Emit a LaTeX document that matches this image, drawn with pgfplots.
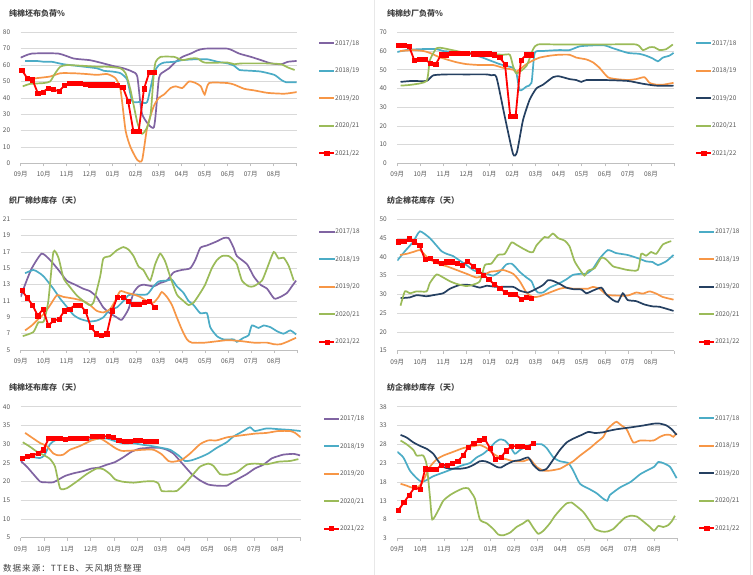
\documentclass[border=0pt]{standalone}
\usepackage{fontspec}
\setmainfont{Noto Sans CJK SC}
\usepackage{pgfplots}
\pgfplotsset{compat=1.18}
\definecolor{cpur}{HTML}{8064A2}
\definecolor{cteal}{HTML}{4BACC6}
\definecolor{corg}{HTML}{F79646}
\definecolor{cgrn}{HTML}{9BBB59}
\definecolor{cnav}{HTML}{254061}
\definecolor{cred}{HTML}{FF0000}
\definecolor{gridgray}{HTML}{D9D9D9}
\definecolor{axgray}{HTML}{BFBFBF}
\definecolor{lblgray}{HTML}{595959}
\definecolor{ttlgray}{HTML}{404040}
\pgfplotsset{
  panel/.style={
    scale only axis, width=276pt, height=131pt,
    xmin=0, xmax=12,
    axis x line*=bottom, axis y line*=left,
    y axis line style={draw=none},
    x axis line style={draw=axgray, line width=0.6pt, -},
    xtick={0,...,12},
    xticklabels={09月,10月,11月,12月,01月,02月,03月,04月,05月,06月,07月,08月,{}},
    ymajorgrids, grid style={draw=gridgray, line width=0.6pt},
    tick align=outside, major tick length=3pt,
    ytick style={draw=none},
    xtick style={draw=axgray, line width=0.6pt},
    tick label style={font=\fontsize{6.5}{7}\selectfont, text=lblgray},
    yticklabel style={xshift=-4pt},
    xticklabel style={yshift=-2pt},
    /pgf/number format/assume math mode=true,
    legend cell align=left,
    legend style={draw=none, fill=none, anchor=north west, inner sep=0pt,
      row sep=21.5pt, font=\fontsize{6.5}{7}\selectfont, text=lblgray,
      nodes={inner sep=0pt, text height=5pt, text depth=1pt},
      /tikz/every even column/.append style={column sep=3pt}},
    legend image code/.code={\draw[##1, line width=2pt, mark repeat=2, mark phase=2] plot coordinates {(0pt,0pt) (7.5pt,0pt) (15pt,0pt)};},
    every axis plot/.append style={line width=1.7pt},
  },
  sm/.style={smooth, tension=0.35, no markers},
  rd/.style={cred, line width=1.8pt, mark=square*, mark size=2.1pt, mark options={fill=cred, line width=0.5pt}},
}
\begin{document}
\begin{tikzpicture}
\fill[white] (0pt,0pt) rectangle (753pt,-575pt);
\path[use as bounding box] (0pt,0pt) rectangle (753pt,-575pt);
\draw[gridgray!60, line width=0.6pt] (374pt,0pt) -- (374pt,-575pt);
\draw[gridgray!60, line width=0.6pt] (750pt,0pt) -- (750pt,-575pt);
\begin{scope}[every node/.style={anchor=west, font=\bfseries\fontsize{8}{9}\selectfont, text=ttlgray, inner sep=0pt}]
\node at (9pt,-13pt) {纯棉坯布负荷\%};
\node at (387pt,-13pt) {纯棉纱厂负荷\%};
\node at (9pt,-200.5pt) {织厂棉纱库存（天）};
\node at (387pt,-200.5pt) {纺企棉花库存（天）};
\node at (9pt,-387.5pt) {纯棉坯布库存（天）};
\node at (387pt,-387.5pt) {纺企棉纱库存（天）};
\end{scope}
\node[anchor=west, font=\fontsize{8.5}{9}\selectfont\addfontfeature{LetterSpace=12}, text=ttlgray, inner sep=0pt] at (3pt,-568pt) {数据来源：TTEB、天风期货整理};

% ---------- Panel 1 ----------
\begin{axis}[panel, at={(20.7pt,-163.3pt)}, anchor=south west, width=276pt, height=131pt,
  ymin=0, ymax=80, ytick={0,10,...,80}, legend style={at={(1.077,0.941)}}]
\addplot[cpur, sm] coordinates {(0,64.5)(0.48,67)(1.64,67)(2.30,64)(3.0,63)(3.46,61.5)(4.0,59.5)(4.48,58)(4.85,56)(5.07,53)(5.28,30)(5.79,22)(6.01,52)(6.23,56)(6.45,58)(6.74,62)(7.03,65)(7.39,67)(7.69,69)(8.0,70)(9.0,70)(9.5,67)(10.01,65)(10.45,63)(10.89,61)(11.32,60.5)(11.62,62)(12.0,62.5)};
\addplot[cteal, sm] coordinates {(0.19,62.5)(0.70,62.5)(1.0,62)(1.35,62)(1.86,60.5)(2.45,59.5)(3.32,58)(3.61,56.5)(4.0,56)(4.34,55)(4.63,51)(4.85,38)(5.21,37.5)(5.50,37.5)(5.79,55)(6.01,60)(6.23,61.5)(6.67,62)(7.03,63)(7.54,63.5)(8.12,63.5)(8.56,62)(9.0,61)(9.29,59.5)(9.51,57)(10.01,56.5)(10.45,56)(11.03,54)(11.32,51)(11.54,49.5)(12.0,49.5)};
\addplot[corg, sm] coordinates {(0.19,51)(0.70,52)(1.28,53)(1.72,55)(2.30,55)(2.88,54.5)(3.32,54)(3.76,54.5)(4.12,52)(4.34,45)(4.56,20)(4.77,10)(5.07,2)(5.28,2)(5.50,22)(5.79,35)(6.01,40)(6.23,42)(6.52,46)(6.74,47)(7.03,46)(7.32,50)(7.61,49)(7.83,47)(8.0,42)(8.19,49)(9.0,49)(9.29,48)(9.72,45.5)(10.16,44.5)(10.74,43)(11.47,42.5)(12.0,43.5)};
\addplot[cgrn, sm] coordinates {(0.09,47)(0.41,48.5)(1.0,49)(1.28,50)(1.50,55)(1.72,59)(2.01,60)(2.74,59.5)(3.32,59)(3.76,59)(4.34,58)(4.56,55)(4.77,45)(5.07,25)(5.28,18)(5.50,22)(5.65,30)(5.79,55)(5.87,62)(6.08,65)(6.67,65)(7.03,63)(7.39,64)(7.69,64)(8.0,61.5)(9.0,61.5)(9.29,60.5)(9.58,61)(10.74,61)(11.32,60.5)(11.62,58.5)(11.91,57)};
\addplot[rd] coordinates {(0.05,57)(0.28,52)(0.51,51)(0.74,43)(0.97,43.5)(1.20,46)(1.43,45)(1.67,44)(1.90,47.5)(2.13,49)(2.36,49)(2.59,49)(2.82,48.5)(3.05,48)(3.28,48)(3.51,48)(3.74,48)(3.97,48)(4.20,47.5)(4.44,46.5)(4.67,38)(4.90,19.5)(5.13,19.5)(5.36,45.5)(5.59,55.5)(5.82,55.5)};
\legend{2017/18,2018/19,2019/20,2020/21,2021/22}
\end{axis}

% ---------- Panel 2 ----------
\begin{axis}[panel, at={(397.3pt,-163.3pt)}, anchor=south west, width=276.7pt, height=131pt,
  ymin=0, ymax=70, ytick={0,10,...,70}, legend style={at={(1.076,0.941)}}]
\addplot[cteal, sm] coordinates {(0,59.5)(0.40,60.5)(0.98,61)(1.70,61)(1.99,60)(2.57,59.5)(3.0,59)(3.58,57)(4.01,55)(4.44,53)(4.73,52)(5.02,51)(5.17,48)(5.31,39)(5.60,41)(5.82,43)(5.96,59)(6.32,60)(7.01,60.5)(7.47,60.5)(7.91,62.5)(8.48,63)(8.99,63)(9.35,61.5)(10.0,59)(10.5,58.5)(10.79,57.5)(11.08,56)(11.30,54.5)(11.52,56.5)(11.80,57.5)(11.98,59)};
\addplot[corg, sm] coordinates {(0.12,60)(0.69,60.5)(1.13,60)(1.41,59)(1.77,57)(2.14,55.5)(2.57,54)(3.0,53)(3.58,52.5)(4.16,52.5)(4.59,51)(5.02,50)(5.17,49)(5.60,53)(5.89,55)(6.18,56.5)(6.61,57.5)(7.01,58)(7.47,58)(7.76,56.5)(8.20,55.5)(8.48,54)(8.77,51)(9.13,46)(9.49,45)(10.0,44.5)(10.36,45)(10.72,46)(10.94,43)(11.23,42)(11.52,42)(11.98,43)};
\addplot[cnav, sm] coordinates {(0.14,43.5)(0.62,44)(1.27,44)(1.56,47)(2.14,47.5)(3.0,47.5)(3.87,47.5)(4.08,47)(4.30,46)(4.66,25)(5.02,5)(5.19,6)(5.45,23)(5.74,34)(6.03,40)(6.32,42)(6.75,46)(7.01,46.5)(7.47,45)(7.76,44.5)(7.98,43.5)(8.20,44.5)(8.99,44.5)(10.0,44)(10.65,42.5)(11.23,41.5)(11.98,41.5)};
\addplot[cgrn, sm] coordinates {(0.14,41.5)(0.62,42)(1.27,44)(1.41,55)(1.70,61.5)(1.99,61.5)(2.57,60)(3.0,59)(3.87,58.5)(4.59,58)(4.88,58)(5.02,52)(5.17,48)(5.60,52)(5.89,61)(6.10,63.5)(7.01,63.5)(8.99,63.5)(10.36,63.5)(10.65,60.5)(10.94,62)(11.15,62)(11.37,60.5)(11.66,61)(11.95,63.5)};
\addplot[rd] coordinates {(0.05,63)(0.28,63)(0.51,62.5)(0.74,55)(0.97,55.5)(1.20,55.5)(1.43,53.5)(1.67,53)(1.90,58)(2.13,58)(2.36,59)(2.59,59)(2.82,59)(3.05,59)(3.28,58.5)(3.51,58.5)(3.74,58.5)(3.97,58.5)(4.20,58)(4.44,56.5)(4.67,53)(4.90,25)(5.13,25)(5.36,55)(5.59,58)(5.82,58)};
\legend{2017/18,2018/19,2019/20,2020/21,2021/22}
\end{axis}

% ---------- Panel 3 ----------
\begin{axis}[panel, at={(20.7pt,-350pt)}, anchor=south west, width=276.3pt, height=130.7pt,
  ymin=5, ymax=21, ytick={5,7,...,21}, legend style={at={(1.077,0.928)}}]
\addplot[cpur, sm] coordinates {(0,11.5)(0.19,13)(0.48,15)(0.91,16.8)(1.28,16)(1.64,14.8)(2.0,13.5)(2.36,13)(2.72,12.5)(3.01,12.2)(3.30,11.5)(3.59,10.2)(3.88,9.5)(4.17,9)(4.39,8.7)(4.68,10)(4.90,12)(5.12,12.8)(5.33,13)(5.77,12.8)(6.06,13.2)(6.35,13.5)(6.64,14.5)(7.0,14.8)(7.36,15)(7.58,16)(7.80,17.5)(8.09,17.8)(8.52,18.3)(8.81,18.7)(9.03,18.7)(9.25,17.5)(9.39,16.5)(9.83,15.5)(10.12,14)(10.41,13)(10.70,12.5)(11.01,11.3)(11.28,11.5)(11.57,12)(11.78,12.8)(11.96,13.5)};
\addplot[cteal, sm] coordinates {(0.19,14.4)(0.55,14.8)(0.77,14.5)(1.0,14)(1.42,12.5)(1.71,11.3)(2.0,10.3)(2.29,9.3)(2.58,8.8)(2.99,8.5)(3.30,8.6)(3.59,9)(3.88,10)(4.17,10.2)(4.46,11)(4.68,11.7)(4.90,11.8)(5.48,11.8)(5.77,12.8)(6.0,13.4)(6.35,13.5)(6.57,13.6)(6.78,12.8)(7.07,12)(7.29,11)(7.51,10.5)(7.80,9.5)(8.09,9.5)(8.23,7.8)(8.52,6.7)(8.81,6.3)(9.25,6.3)(9.39,6.0)(9.68,6.5)(9.90,6.8)(10.04,8.0)(10.33,7.7)(10.55,8.0)(10.84,7.8)(11.13,7.3)(11.42,7.0)(11.71,7.4)(11.96,6.9)};
\addplot[corg, sm] coordinates {(0.19,7.4)(0.48,8)(0.77,8.8)(1.0,9.4)(1.28,10.5)(1.57,11.7)(1.86,11.5)(2.29,11.3)(2.72,11)(3.01,10.5)(3.30,9.8)(3.59,9.6)(3.88,10)(4.10,11)(4.32,12.2)(4.61,12)(4.90,11.8)(5.19,11.5)(5.48,11)(5.77,10.8)(5.99,11.5)(6.13,12.1)(6.35,11.5)(6.57,10.5)(6.78,9)(7.0,7.5)(7.22,6.3)(7.43,5.9)(8.0,5.9)(8.96,6.2)(9.54,6.1)(10.12,5.9)(10.70,5.9)(11.01,5.7)(11.28,5.7)(11.57,6.0)(11.96,6.5)};
\addplot[cgrn, sm] coordinates {(0.09,6.7)(0.55,7.2)(0.77,8.4)(1.0,8.5)(1.20,11)(1.42,17)(1.64,16.3)(1.86,13.8)(2.14,12.7)(2.43,11.7)(2.72,11)(2.99,10.5)(3.16,10.8)(3.45,14)(3.59,16.2)(3.88,16.5)(4.17,17.2)(4.46,17.6)(4.68,17.3)(4.90,16.5)(5.12,15.2)(5.33,14.8)(5.62,13.5)(5.84,15.5)(6.06,16.8)(6.28,15.8)(6.49,14)(6.78,11.8)(7.07,11)(7.29,10.5)(7.51,10.8)(7.80,12)(8.01,13)(8.30,15)(8.52,16)(8.74,16.5)(9.03,16.5)(9.25,16)(9.39,15.5)(9.61,13.5)(9.90,12.8)(10.12,12.8)(10.48,13.5)(10.70,15)(10.99,17)(11.20,16.2)(11.42,16.3)(11.64,15.3)(11.86,13.5)};
\addplot[rd] coordinates {(0.05,12.3)(0.28,11.4)(0.51,10.5)(0.74,9.2)(0.97,10)(1.20,8)(1.43,8.6)(1.67,8.8)(1.90,9.8)(2.13,10)(2.36,10.5)(2.59,10.5)(2.82,9.7)(3.05,7.8)(3.28,7)(3.51,6.8)(3.74,7)(3.97,9.8)(4.20,11.5)(4.44,11.5)(4.67,11)(4.90,10.6)(5.13,10.6)(5.36,10.8)(5.59,11)(5.82,10.2)};
\legend{2017/18,2018/19,2019/20,2020/21,2021/22}
\end{axis}

% ---------- Panel 4 ----------
\begin{axis}[panel, at={(397.3pt,-350.7pt)}, anchor=south west, width=276.7pt, height=131.4pt,
  ymin=15, ymax=50, ytick={15,20,...,50}, legend style={at={(1.087,0.928)}}]
\addplot[cteal, sm] coordinates {(0,39)(0.33,41.5)(0.69,44)(0.98,46.8)(1.41,45)(1.63,43.5)(1.92,41.5)(2.14,40.8)(2.42,40.2)(2.71,39)(3.0,37.8)(3.29,36.5)(3.58,35.8)(3.87,35.5)(4.16,35)(4.44,36)(4.73,38)(4.95,38.2)(5.09,37.5)(5.31,36)(5.60,34.5)(5.82,33.5)(5.96,31.5)(6.10,30.5)(6.32,30.5)(6.61,31.8)(7.04,33)(7.33,34)(7.62,35.2)(7.98,35.5)(8.20,35.5)(8.48,36.8)(8.77,39.5)(9.13,41.8)(9.49,41)(9.99,40.5)(10.50,39.5)(10.79,38.8)(11.08,38.6)(11.30,37.8)(11.66,38.8)(11.98,40.5)};
\addplot[corg, sm] coordinates {(0.12,40.5)(0.40,40.8)(0.69,41.3)(0.98,41.8)(1.20,40.5)(1.41,39.3)(1.85,38)(2.14,37.5)(2.57,36.5)(3.0,35.5)(3.43,34.5)(3.72,35)(4.01,36)(4.30,36.2)(4.59,36.5)(5.02,35.5)(5.31,33.5)(5.60,30.5)(5.89,29.3)(6.18,29.5)(6.61,30.5)(7.04,31.5)(7.33,31.8)(7.62,31.5)(7.98,31.5)(8.27,31.5)(8.48,32)(8.77,31.5)(9.06,30)(9.35,29.7)(9.99,29.7)(10.36,30.5)(10.65,30.2)(10.94,30.8)(11.23,30.2)(11.52,29.3)(11.98,28.6)};
\addplot[cnav, sm] coordinates {(0.14,29)(0.55,29.2)(0.84,29.8)(1.27,29.5)(1.56,29.8)(1.99,30.3)(2.28,31.5)(2.71,32.5)(3.15,32.5)(3.58,31.8)(3.87,32.3)(4.30,32)(5.02,32)(5.31,31)(5.67,30.5)(6.03,31.5)(6.32,32.5)(6.54,33.8)(6.75,33.6)(7.04,32.8)(7.33,31.8)(7.62,31.4)(7.98,31.3)(8.20,30.3)(8.48,31)(8.85,31.8)(9.06,30)(9.35,28.5)(9.57,28)(9.78,30.3)(9.99,28.5)(10.36,28.2)(10.72,27.3)(11.08,26.8)(11.37,26.7)(11.98,25.6)};
\addplot[cgrn, sm] coordinates {(0.14,27)(0.33,30.8)(0.55,30.3)(0.84,30.8)(1.27,30.8)(1.41,33)(1.70,35.3)(1.99,34.5)(2.28,33.5)(2.57,32.8)(3.0,32.2)(3.29,32.6)(3.58,33.5)(3.80,37.8)(4.08,38.2)(4.37,40.5)(4.66,40.8)(4.95,43.8)(5.17,43.2)(5.45,42.2)(5.74,41.3)(5.89,41.3)(6.03,43)(6.25,44.5)(6.39,45.3)(6.54,45.1)(6.75,46.2)(6.97,45)(7.26,44.3)(7.47,42.8)(7.69,38.8)(7.98,36)(8.12,35)(8.27,36.3)(8.56,37)(8.85,39.8)(9.06,39.3)(9.35,37.5)(9.64,37)(9.99,36.5)(10.43,36.5)(10.58,40.8)(10.79,40.3)(11.01,41.3)(11.23,40.8)(11.52,43.3)(11.88,44.2)};
\addplot[rd] coordinates {(0.05,44)(0.28,44.2)(0.51,44.8)(0.74,44)(0.97,43)(1.20,39.3)(1.43,39.6)(1.67,38.8)(1.90,38.2)(2.13,38.7)(2.36,38.7)(2.59,38.3)(2.82,37.8)(3.05,38.8)(3.28,37.5)(3.51,36.3)(3.74,35.2)(3.97,34)(4.20,32.7)(4.44,31.7)(4.67,30.6)(4.90,30)(5.13,30)(5.36,28.8)(5.59,29.2)(5.82,29)};
\legend{2017/18,2018/19,2019/20,2020/21,2021/22}
\end{axis}

% ---------- Panel 5 ----------
\begin{axis}[panel, at={(20.7pt,-537.7pt)}, anchor=south west, width=280pt, height=131pt,
  ymin=5, ymax=40, ytick={5,10,...,40}, legend style={at={(1.079,0.934)}}]
\addplot[cpur, sm] coordinates {(0,25.5)(0.26,24)(0.54,22)(0.83,20)(1.04,19.8)(1.40,19.8)(1.61,20.5)(1.90,21.5)(2.26,22.2)(2.69,22.8)(3.04,23.5)(3.33,23.7)(3.69,24.5)(4.04,25.2)(4.40,26.5)(4.76,28)(5.11,28.8)(5.54,29)(5.97,29)(6.26,28.5)(6.54,27.5)(6.83,25.5)(7.04,24)(7.33,22)(7.69,20.3)(8.04,19.2)(8.40,18.9)(8.83,18.9)(9.11,20)(9.40,21)(9.69,22)(10.04,23.5)(10.40,24.5)(10.76,26.2)(11.04,26.8)(11.26,27.2)(11.69,27.4)(11.97,27)};
\addplot[cteal, sm] coordinates {(0.19,26.5)(0.54,26.5)(0.83,26.3)(1.01,27)(1.26,30)(1.47,31)(1.69,31.3)(2.04,31.5)(2.54,31.2)(3.04,31.2)(3.40,31.5)(3.69,31.5)(4.04,30.8)(4.40,30.2)(4.83,30.2)(5.26,29.8)(5.61,29.5)(6.04,29)(6.40,28.5)(6.76,27)(7.04,25.5)(7.33,25.7)(7.69,26.5)(8.04,27.5)(8.40,29)(8.83,30.5)(9.11,32)(9.54,33.5)(9.83,34.5)(10.04,33.5)(10.54,34.2)(11.04,34)(11.54,33.8)(12.0,33.5)};
\addplot[corg, sm] coordinates {(0.19,33)(0.54,31.5)(0.83,30.3)(1.11,29.5)(1.40,27.5)(1.61,27)(1.83,27.2)(2.11,28.5)(2.54,29.5)(3.04,31)(3.40,31.5)(3.69,30.5)(4.04,29)(4.33,28.2)(4.83,28.3)(5.26,28.5)(5.69,28.5)(6.04,27.3)(6.33,25.5)(6.54,25.3)(6.90,25.8)(7.26,27.5)(7.69,30)(8.04,31)(8.40,31)(8.83,31.8)(9.40,32.3)(10.04,32.8)(10.54,33)(11.04,33.5)(11.54,33.5)(11.76,33)(12.0,31.8)};
\addplot[cgrn, sm] coordinates {(0.09,30.5)(0.40,29.3)(0.69,28)(1.01,27)(1.26,26)(1.47,24)(1.69,18.2)(1.97,18.2)(2.40,20)(2.83,22)(3.26,23.5)(3.54,23.3)(3.83,22)(4.04,20.6)(4.33,20)(4.83,19.7)(5.26,20)(5.69,20.1)(5.90,19.5)(6.04,17.5)(6.40,17.4)(6.69,17.5)(7.04,19.5)(7.40,22)(7.69,24)(8.04,24.8)(8.26,24.2)(8.54,22)(8.83,21.8)(9.26,22.5)(9.69,24.5)(10.04,24.8)(10.54,24.6)(11.04,25.3)(11.54,25.5)(11.90,26)};
\addplot[rd] coordinates {(0.05,26.2)(0.28,26.8)(0.51,27)(0.74,27.5)(0.97,28.5)(1.20,31.5)(1.43,31.5)(1.67,31.5)(1.90,31.3)(2.13,31.5)(2.36,31.5)(2.59,31.5)(2.82,31.5)(3.05,32)(3.28,32)(3.51,32.2)(3.74,32)(3.97,31.8)(4.20,31)(4.44,30.7)(4.67,30.8)(4.90,31)(5.13,31)(5.36,30.7)(5.59,30.7)(5.82,30.7)};
\legend{2017/18,2018/19,2019/20,2020/21,2021/22}
\end{axis}

% ---------- Panel 6 ----------
\begin{axis}[panel, at={(397.3pt,-538.3pt)}, anchor=south west, width=280pt, height=131.6pt,
  ymin=3, ymax=38, ytick={3,8,...,38}, legend style={at={(1.074,0.935)}}]
\addplot[cteal, sm] coordinates {(0,26)(0.26,24.5)(0.54,21)(0.83,19)(1.04,18)(1.26,18.5)(1.54,19.5)(1.97,20.5)(2.40,21.5)(2.83,22.5)(3.11,23)(3.40,24.5)(3.69,25.5)(3.97,27)(4.19,28.5)(4.40,29.3)(4.61,29)(4.83,27.5)(5.04,25.5)(5.26,26.5)(5.54,27.5)(5.83,28)(6.19,28)(6.40,27)(6.69,24.5)(6.97,23.5)(7.33,23)(7.54,21)(7.83,17.5)(8.26,16)(8.54,15)(8.83,13.5)(9.0,13)(9.11,14.5)(9.54,16.5)(10.0,18)(10.40,20)(10.69,21)(11.0,22)(11.19,23.3)(11.40,23)(11.69,22)(11.97,19)};
\addplot[corg, sm] coordinates {(0.14,17.5)(0.40,17)(0.61,16.5)(0.83,16.5)(1.04,17.5)(1.40,22)(1.69,24)(1.97,25)(2.40,26)(2.83,27)(3.26,27.5)(3.54,27.8)(3.83,27)(4.11,25.5)(4.40,24.5)(4.69,24)(4.97,23.5)(5.40,23.5)(5.69,24)(5.97,22)(6.26,21)(6.54,21)(6.97,21.5)(7.26,22.5)(7.54,23.5)(7.83,25)(8.26,27)(8.54,28.5)(8.83,30)(9.0,32)(9.26,33.5)(9.40,34)(9.61,33)(9.83,32)(10.11,28.5)(10.40,29)(10.97,29)(11.26,30)(11.47,30.5)(11.69,30.5)(11.83,30)(11.97,31)};
\addplot[cnav, sm] coordinates {(0.14,30.5)(0.40,29.8)(0.69,28.5)(1.0,27.5)(1.26,26.8)(1.54,25.5)(1.76,23.5)(1.97,22)(2.26,21.5)(2.69,21.5)(3.0,21.8)(3.26,22.5)(3.54,23.5)(3.76,23.5)(3.97,23)(4.26,22)(4.43,21.8)(4.69,22.7)(4.97,23.5)(5.26,23.8)(5.61,24.5)(5.83,22.5)(6.11,21)(6.40,21.5)(6.69,24)(6.97,26.5)(7.26,28.5)(7.54,29.5)(7.90,30.5)(8.19,31.3)(8.47,31)(8.83,31.2)(9.0,31.5)(9.40,32)(10.0,32.5)(10.54,33)(11.0,33.5)(11.26,33.5)(11.54,33)(11.76,32)(11.97,30.5)};
\addplot[cgrn, sm] coordinates {(0.14,29)(0.40,28)(0.69,26.5)(0.83,25)(1.11,25)(1.26,22.5)(1.40,14)(1.50,8)(1.76,10.5)(1.97,13)(2.26,14.5)(2.54,15.5)(2.83,16.3)(3.04,16.3)(3.19,15)(3.33,13.5)(3.54,8)(3.83,7)(4.11,5.5)(4.33,4)(4.54,3.8)(4.83,4.5)(5.11,6)(5.40,7)(5.61,7.8)(5.83,5.8)(6.04,4.2)(6.26,5)(6.54,7)(6.76,9)(7.04,11)(7.26,12.3)(7.47,12.5)(7.69,11.5)(7.97,10)(8.26,7.5)(8.47,5.5)(8.76,4.8)(9.0,4.8)(9.26,5.5)(9.47,6.8)(9.76,8.5)(10.0,9)(10.26,8.8)(10.54,7.5)(10.83,6)(11.0,5)(11.19,6.3)(11.40,6)(11.61,6.5)(11.76,7.5)(11.9,9)};
\addplot[rd] coordinates {(0.05,10.5)(0.28,12.5)(0.51,14.5)(0.74,16.5)(0.97,16)(1.20,21.5)(1.43,21.3)(1.67,21.3)(1.90,22.5)(2.13,22.5)(2.36,23)(2.59,23.5)(2.82,25)(3.05,27.3)(3.28,28.3)(3.51,29)(3.74,29.5)(3.97,27)(4.20,24)(4.44,24.5)(4.67,26.3)(4.90,27.5)(5.13,27.5)(5.36,27.5)(5.59,27.3)(5.82,28.3)};
\legend{2017/18,2018/19,2019/20,2020/21,2021/22}
\end{axis}
\end{tikzpicture}
\end{document}
